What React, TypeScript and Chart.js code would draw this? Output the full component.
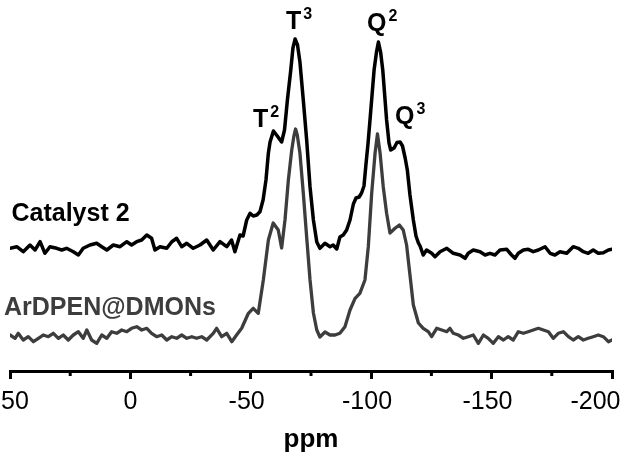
import React, { useEffect, useRef } from "react";
import { Chart, registerables } from "chart.js";

Chart.register(...registerables);

// ---------- data ----------
const catalystPpm = [50, 47.2, 44.5, 41.7, 39.6, 37.5, 35.5, 33.4, 30.6, 28.5, 26.5, 23.7, 21.6, 19.6, 16.8, 14, 11.9, 9.8, 7.1, 4.3, 1.5, -0.5, -2.6, -4.7, -6.8, -8.8, -10.2, -12.3, -15.1, -17.2, -19.2, -21.3, -23.4, -26.1, -28.9, -31.7, -34.4, -37.2, -40, -42, -43.4, -45.5, -46.8, -48.3, -49.7, -51, -52.5, -53.8, -55.1, -56.3, -57.3, -58, -59.4, -61, -62.8, -64, -65.2, -66.6, -67.5, -68.4, -69.4, -70.4, -71.8, -73.2, -74.6, -76, -77.4, -78.7, -80.8, -82.9, -84.2, -85.7, -87, -88.4, -89.8, -91.2, -92.6, -93.7, -95, -96, -97, -97.8, -98.7, -99.5, -101.2, -102.2, -103, -103.9, -104.8, -106.4, -107.4, -108.1, -109.5, -110.7, -112, -113, -114.1, -115, -116.1, -117.5, -118.6, -119.6, -120.3, -121.6, -123, -125.1, -126.5, -128.6, -131.4, -134.1, -136.9, -139, -140.3, -142.4, -145.2, -147.3, -149.3, -151.4, -153.5, -156.3, -158.3, -159.7, -161.1, -163.2, -165.2, -167.3, -169.4, -172.2, -174.3, -176.3, -178.4, -181.2, -183.9, -186, -188.1, -190.1, -192.2, -194.3, -196.4, -198.5, -200];
const catalystIntensity = [122.7, 124.3, 119.3, 126, 121, 129.3, 117.7, 124.3, 122.7, 121, 122.7, 119.3, 116, 122.7, 126, 127.7, 124.3, 121, 126, 124.3, 129.3, 126, 129.3, 131, 136, 132.7, 121, 124.3, 122.7, 129.3, 132.7, 124.3, 127.7, 122.7, 126, 131, 121, 129.3, 124.3, 131, 119.3, 136, 135, 151, 157.7, 155, 156, 159.3, 171, 191, 218, 229, 240, 235, 229, 241, 271, 301, 323, 332, 326, 309, 271, 231, 184, 151, 129, 122.7, 127.7, 124.3, 126, 122, 134, 136, 141, 151, 167, 173, 174, 178, 185, 206, 228, 251, 301, 319, 329, 319, 301, 251, 228, 221, 223, 228.5, 229, 225, 213, 201, 176, 151, 135, 128, 125, 116, 121, 117.7, 114.3, 119.3, 122.7, 117.7, 116, 112.7, 117.7, 121, 119.3, 116, 117.7, 116, 121, 121.7, 116, 112.7, 117.7, 121, 121.7, 119.3, 121, 124.3, 117.7, 116, 119.3, 117.7, 124.3, 122.7, 119.3, 117.7, 121, 117.7, 118.3, 121, 121.7];

const ardpenPpm = [50, 47.9, 46.6, 44.5, 42.4, 40.3, 38.2, 36.2, 34.1, 32, 29.9, 27.9, 25.8, 23.7, 21.6, 19.6, 18.1, 16.1, 14, 11.9, 9.8, 7.8, 5.7, 3.6, 1.5, -0.5, -2.6, -4.7, -6.8, -8.8, -10.9, -13, -15.1, -17.2, -19.2, -21.3, -23.4, -25.5, -27.5, -29.6, -31.7, -34.4, -35.8, -37.9, -40, -42.1, -44.1, -46.2, -49, -51, -53.1, -55.2, -57.3, -59.3, -61.4, -62.8, -64.2, -65.6, -67, -67.9, -68.6, -69.3, -70.4, -71.8, -73.2, -74.6, -76, -77.4, -78.7, -80.8, -82.9, -85, -87, -89.1, -91.2, -93.3, -95.3, -97.4, -98.8, -100.2, -101.6, -102.6, -103.7, -105, -106.4, -107.8, -109.9, -111.7, -113.3, -114.7, -116.1, -117.5, -119.6, -121.6, -123.7, -125.1, -127.2, -129.3, -131.4, -132.7, -134.1, -136.2, -138.3, -140.3, -142.4, -144.5, -146.6, -148.6, -150.7, -152.8, -154.9, -156.9, -159, -161.1, -163.2, -165.2, -167.3, -169.4, -171.5, -173.6, -175.6, -177.7, -179.8, -181.9, -183.9, -186, -188.1, -190.1, -192.2, -194.3, -196.4, -198.5, -200];
const ardpenIntensity = [36, 32.7, 37.7, 31, 34.3, 29.3, 32.7, 36, 34.3, 37.7, 32.7, 36, 31, 36, 39.3, 32.7, 41, 31, 27.7, 36, 32.7, 39.3, 37.7, 41, 39.3, 42.7, 44.3, 41, 42.7, 37.7, 34.3, 36, 31, 34.3, 32.7, 36, 32.7, 34.3, 32.7, 34.3, 31, 37.7, 42.7, 34.3, 37.7, 29.3, 36, 42.7, 57.7, 62.7, 57.7, 91, 131, 148, 141, 123, 151, 191, 221, 235, 242, 236, 218, 178, 134, 91, 58, 41, 34, 39, 36, 36, 37.7, 44.3, 61, 72.7, 77.7, 91, 124.3, 177.7, 217.7, 237, 217.7, 184.3, 157.7, 138, 142.7, 146, 141, 126, 96, 66, 48, 42.7, 39.3, 34.3, 42.7, 41, 39.3, 42.7, 37.7, 36, 32.7, 34.3, 36, 27.7, 36, 32.7, 27.7, 34.3, 31, 34.3, 31, 39.3, 37.7, 39.3, 41, 42.7, 41, 39.3, 32.7, 37.7, 39.3, 34.3, 31, 34.3, 31, 32.7, 34.3, 36, 34.3, 29.3, 31];

const seriesNames = ["Catalyst 2", "ArDPEN@DMONs"];
const majorTicks = [50, 0, -50, -100, -150, -200];
const minorTicks = [25, -25, -75, -125, -175];
const axisTitle = "ppm";
const peakLetters = ["T", "T", "Q", "Q"];
const peakSups = ["2", "3", "2", "3"];

// ---------- layout / style (not data) ----------
const FONT = '"Liberation Sans", Arial, Helvetica, sans-serif';
const BLACK = "#000000";
const GREY = "#3d3d3d";
const peakAnchors = [
  { ppm: -50.9, h: 244 },
  { ppm: -64.6, h: 342.5 },
  { ppm: -98.3, h: 340 },
  { ppm: -109.9, h: 247 },
];
const seriesAnchors = [
  { ppm: 49.4, h: 150, color: BLACK },
  { ppm: 52.5, h: 56, color: GREY },
];

const overlayPlugin = {
  id: "overlay",
  afterDraw(chart: any) {
    const ctx = chart.ctx as CanvasRenderingContext2D;
    const xs = chart.scales.x;
    const ys = chart.scales.y;
    const axisY = chart.chartArea.bottom;
    ctx.save();
    // minor tick marks
    ctx.strokeStyle = BLACK;
    ctx.lineWidth = 3;
    minorTicks.forEach((v) => {
      const px = xs.getPixelForValue(v);
      ctx.beginPath();
      ctx.moveTo(px, axisY);
      ctx.lineTo(px, axisY + 5);
      ctx.stroke();
    });
    // tick labels (digits centred on the tick, minus sign hanging left)
    ctx.font = `25px ${FONT}`;
    ctx.fillStyle = BLACK;
    ctx.textAlign = "left";
    ctx.textBaseline = "alphabetic";
    majorTicks.forEach((v) => {
      const label = String(v);
      const digits = label.replace("-", "");
      const dw = ctx.measureText(digits).width;
      const fw = ctx.measureText(label).width;
      const px = xs.getPixelForValue(v);
      let left = px + dw / 2 - fw;
      left = Math.max(left, 1);
      left = Math.min(left, chart.width - 3.5 - fw);
      ctx.fillText(label, left, axisY + 38);
    });
    // peak labels
    peakLetters.forEach((letter, i) => {
      const a = peakAnchors[i];
      const x = xs.getPixelForValue(a.ppm);
      const y = ys.getPixelForValue(a.h);
      ctx.fillStyle = BLACK;
      ctx.font = `bold 25px ${FONT}`;
      ctx.fillText(letter, x, y);
      const w = ctx.measureText(letter).width;
      ctx.font = `bold 16px ${FONT}`;
      ctx.fillText(peakSups[i], x + w + 2, y - 10);
    });
    // series labels
    seriesNames.forEach((name, i) => {
      const a = seriesAnchors[i];
      ctx.fillStyle = a.color;
      ctx.font = `bold 25px ${FONT}`;
      ctx.fillText(name, xs.getPixelForValue(a.ppm), ys.getPixelForValue(a.h));
    });
    ctx.restore();
  },
};

export default function App() {
  const canvasRef = useRef<HTMLCanvasElement | null>(null);

  useEffect(() => {
    const canvas = canvasRef.current;
    if (!canvas) return;
    const chart = new Chart(canvas, {
      type: "line",
      data: {
        datasets: [
          {
            label: seriesNames[0],
            data: catalystPpm.map((x, i) => ({ x, y: catalystIntensity[i] })),
            borderColor: BLACK,
            borderWidth: 3.5,
            pointRadius: 0,
            tension: 0,
            fill: false,
            borderJoinStyle: "round",
            borderCapStyle: "round",
          },
          {
            label: seriesNames[1],
            data: ardpenPpm.map((x, i) => ({ x, y: ardpenIntensity[i] })),
            borderColor: GREY,
            borderWidth: 3.3,
            pointRadius: 0,
            tension: 0,
            fill: false,
            borderJoinStyle: "round",
            borderCapStyle: "round",
          },
        ],
      },
      options: {
        animation: false,
        responsive: false,
        maintainAspectRatio: false,
        devicePixelRatio: 1,
        layout: { padding: { left: 10, right: 12, top: 0, bottom: 0 } },
        plugins: {
          legend: { display: false },
          tooltip: { enabled: false },
          title: { display: false },
        },
        scales: {
          x: {
            type: "linear",
            position: "bottom",
            min: -200,
            max: 50,
            reverse: true,
            ticks: { display: false, stepSize: 25 },
            grid: {
              display: true,
              drawOnChartArea: false,
              drawTicks: true,
              tickLength: 8,
              lineWidth: 3,
              color: (c: any) =>
                c.tick && Math.abs(c.tick.value % 50) < 1e-6 ? BLACK : "rgba(0,0,0,0)",
            },
            border: { display: true, color: BLACK, width: 3 },
            title: {
              display: true,
              text: axisTitle,
              color: BLACK,
              font: { family: FONT, size: 26, weight: "bold" },
              padding: { top: 0, bottom: 5 },
            },
            afterFit: (s: any) => {
              s.height = 89;
              s.paddingLeft = 0;
              s.paddingRight = 0;
            },
          },
          y: { display: false, min: 0, max: 371 },
        },
      },
      plugins: [overlayPlugin],
    } as any);
    return () => chart.destroy();
  }, []);

  return (
    <div style={{ position: "absolute", left: 0, top: 0, width: 624, height: 460, background: "#fff" }}>
      <canvas ref={canvasRef} width={624} height={460} style={{ display: "block", width: 624, height: 460 }} />
    </div>
  );
}
